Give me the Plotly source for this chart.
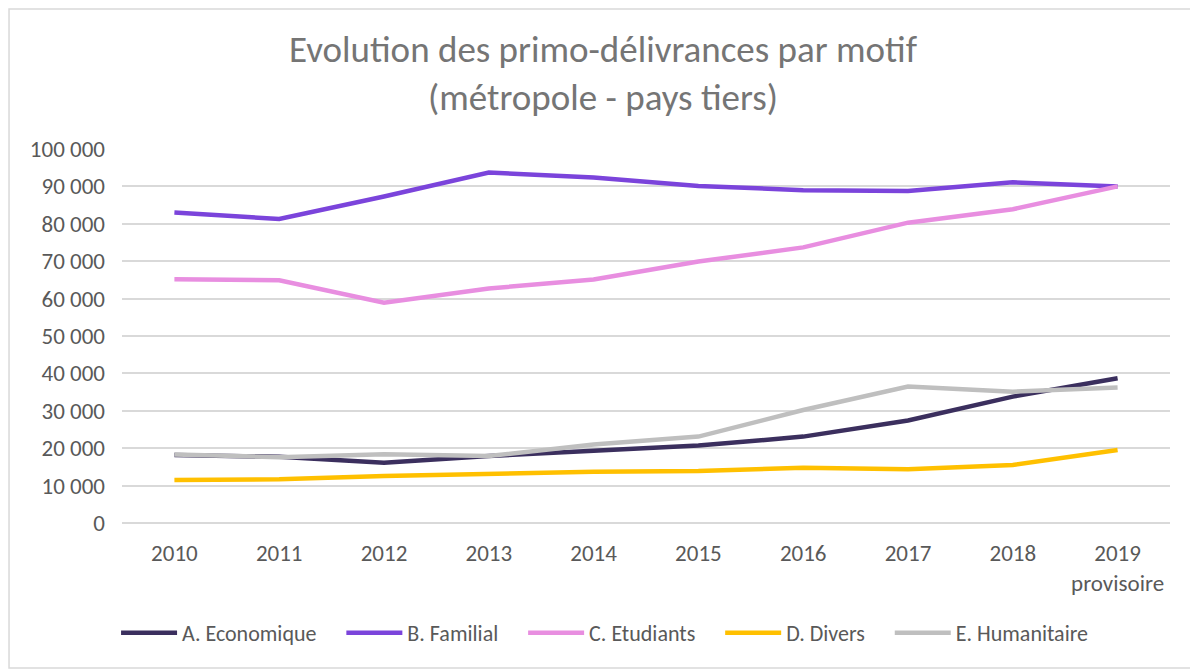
import plotly.graph_objects as go

years = ["2010", "2011", "2012", "2013", "2014", "2015", "2016", "2017", "2018", "2019<br>provisoire"]
economique = [18200, 17700, 16100, 17900, 19300, 20700, 23100, 27400, 33800, 38700]
familial = [83000, 81300, 87300, 93700, 92400, 90100, 89000, 88800, 91100, 90000]
etudiants = [65200, 64900, 58900, 62700, 65100, 69900, 73700, 80300, 83900, 90000]
divers = [11500, 11700, 12600, 13300, 13700, 13900, 14800, 14400, 15500, 19500]
humanitaire = [18300, 17600, 18400, 17900, 21000, 23100, 30200, 36500, 35100, 36200]

series = [
    ("A. Economique", economique, "#3b2f5e"),
    ("B. Familial", familial, "#7b44db"),
    ("C. Etudiants", etudiants, "#e88ee0"),
    ("D. Divers", divers, "#ffc000"),
    ("E. Humanitaire", humanitaire, "#bfbfbf"),
]

FONT = "Carlito, Calibri, Lato, sans-serif"
PAD = "\u00a0" * 4

fig = go.Figure()
for name, vals, col in series:
    fig.add_trace(go.Scatter(x=years, y=vals, name=name + PAD, mode="lines",
                             line=dict(color=col, width=4.5),
                             hovertemplate=name + ": %{y}<extra></extra>"))

W, H = 1190, 663
fig.update_layout(
    width=W, height=H,
    paper_bgcolor="white", plot_bgcolor="white",
    margin=dict(l=114, r=28, t=141, b=148),
    separators=", ",
    font=dict(family=FONT, color="#595959", size=22),
    title=dict(text="Evolution des primo-délivrances par motif<br>(métropole - pays tiers)",
               x=0.5, xanchor="center", y=1 - 54 / H, yanchor="middle",
               font=dict(family=FONT, size=37, color="#757575")),
    xaxis=dict(type="category", range=[-0.5, 9.5], showgrid=False, zeroline=False,
               showline=False, ticks="", ticklabelstandoff=14,
               tickfont=dict(size=23, color="#595959")),
    yaxis=dict(range=[0, 100000], dtick=10000, tickformat=",d", showgrid=True,
               gridcolor="#d9d9d9", gridwidth=2, zeroline=True, zerolinecolor="#d9d9d9",
               zerolinewidth=2, showline=False, ticks="", ticklabelstandoff=16,
               tickfont=dict(size=23, color="#595959")),
    legend=dict(orientation="h", x=0.47, xanchor="center", y=-0.294, yanchor="middle",
                font=dict(size=22, color="#595959"), tracegroupgap=0, itemwidth=56),
    showlegend=True,
)

fig.add_shape(type="rect", xref="paper", yref="paper",
              x0=-0.1078, x1=1.024, y0=-0.388, y1=1.374,
              line=dict(color="#d9d9d9", width=1.5), fillcolor="rgba(0,0,0,0)", layer="below")

fig.write_html("out.html")
